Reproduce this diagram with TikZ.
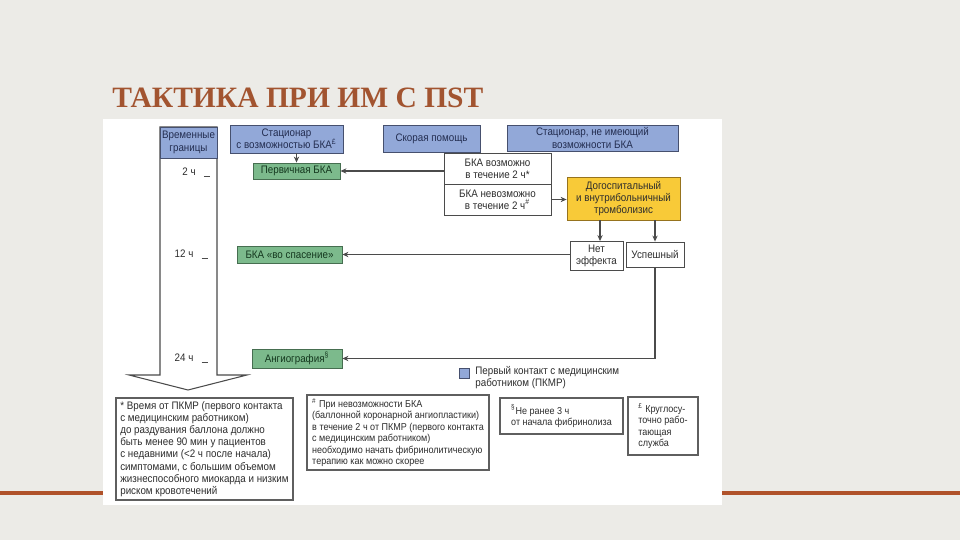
\documentclass[tikz,border=0pt]{standalone}
\usepackage{fontspec}
\setmainfont[FakeStretch=0.9]{Liberation Sans}
\newfontfamily\titlefont{Liberation Serif}
\usetikzlibrary{arrows.meta,positioning}

\definecolor{slidebg}{RGB}{236,235,231}
\definecolor{accent}{RGB}{176,82,42}
\definecolor{titlebrown}{RGB}{162,84,48}
\definecolor{pkmr}{RGB}{146,168,216}
\definecolor{pkmrline}{RGB}{70,80,110}
\definecolor{pkmrtext}{RGB}{35,45,80}
\definecolor{pcigreen}{RGB}{124,186,140}
\definecolor{pciline}{RGB}{70,110,80}
\definecolor{pcitext}{RGB}{20,55,30}
\definecolor{lysisyellow}{RGB}{248,202,56}
\definecolor{lysisline}{RGB}{150,115,30}
\definecolor{linegray}{RGB}{75,75,75}
\definecolor{notegray}{RGB}{95,95,95}
\definecolor{textgray}{RGB}{45,45,45}

\newcommand\diafont{\fontsize{6.2}{7}\selectfont}
\newcommand\notefont{\fontsize{5.7}{6.5}\selectfont}
\newcommand\bignotefont{\fontsize{6.2}{6.9}\selectfont}

\begin{document}
\begin{tikzpicture}[
  x=0.02cm, y=-0.02cm,
  box/.style={draw=linegray, line width=0.5pt, inner sep=1pt, align=center, text=textgray, font=\diafont},
  firstbox/.style={box, fill=pkmr, draw=pkmrline, text=pkmrtext},
  pcibox/.style={box, fill=pcigreen, draw=pciline, text=pcitext},
  notebox/.style={box, align=left, line width=0.9pt, draw=notegray, font=\notefont, inner sep=2pt},
  line/.style={-{Stealth[length=3.4pt,width=3pt]}, line width=0.6pt, draw=linegray},
  timelabel/.style={font=\diafont, text=textgray, inner sep=0pt}
]
% slide and picture panel
\fill[slidebg] (0,0) rectangle (960,540);
\fill[white] (103,119) rectangle (722,505);
\fill[accent] (0,491) rectangle (103,495);
\fill[accent] (722,491) rectangle (960,495);
\node[anchor=base west, inner sep=0pt, text=titlebrown, font=\titlefont\bfseries\fontsize{16.8}{19}\selectfont] (title) at (112,108) {ТАКТИКА ПРИ ИМ С ПST};

% time axis
\draw[linegray, line width=0.6pt, fill=white] (160,127) -- (217,127) -- (217,375) -- (247,375) -- (188,390) -- (129,375) -- (160,375) -- cycle;
\node[firstbox, minimum width=1.14cm, minimum height=0.62cm] (hdr) at (188.5,142.5) {Временные\\границы};
\node[timelabel] (t2) at (189,172) {2 ч};
\node[timelabel] (t12) at (184,254) {12 ч};
\node[timelabel] (t24) at (184,358) {24 ч};
\draw[linegray, line width=0.5pt] ([xshift=0.16cm]t2.south east) -- ++(6,0);
\draw[linegray, line width=0.5pt] ([xshift=0.16cm]t12.south east) -- ++(6,0);
\draw[linegray, line width=0.5pt] ([xshift=0.16cm]t24.south east) -- ++(6,0);

% first contact
\node[firstbox, minimum width=2.26cm, minimum height=0.56cm] (stpci) at (286.5,139) {Стационар\\с возможностью БКА\textsuperscript{£}};
\node[firstbox, minimum width=1.94cm, minimum height=0.54cm] (ems) at (431.5,138.5) {Скорая помощь};
\node[firstbox, minimum width=3.42cm, minimum height=0.52cm] (stnon) at (592.5,138) {Стационар, не имеющий\\возможности БКА};
\node[box, fill=white, minimum width=2.14cm, minimum height=0.62cm] (pciyes) at (497.5,168.5) {БКА возможно\\в течение 2 ч*};
\node[box, fill=white, minimum width=2.14cm, minimum height=0.62cm] (pcino) at (497.5,199.5) {БКА невозможно\\в течение 2 ч\textsuperscript{\#}};

% treatment
\node[pcibox, minimum width=1.74cm, minimum height=0.32cm] (ppci) at (296.5,171) {Первичная БКА};
\node[box, fill=lysisyellow, draw=lysisline, minimum width=2.26cm, minimum height=0.86cm] (lysis) at (623.5,198.5) {Догоспитальный\\и внутрибольничный\\тромболизис};
\node[box, fill=white, minimum width=1.06cm, minimum height=0.58cm] (fail) at (596.5,256) {Нет\\эффекта};
\node[box, fill=white, minimum width=1.16cm, minimum height=0.5cm] (succ) at (655,254.5) {Успешный};
\node[pcibox, minimum width=2.1cm, minimum height=0.34cm] (rescue) at (289.5,254.5) {БКА «во спасение»};
\node[pcibox, minimum width=1.8cm, minimum height=0.38cm] (angio) at (297,358.5) {Ангиография\textsuperscript{§}};

\draw[line] (ppci.north |- stpci.south) -- (ppci.north);
\draw[line] (pciyes.west |- ppci.east) -- (ppci.east);
\draw[line] (pcino.east) -- (pcino.east -| lysis.west);
\draw[line] ([xshift=2pt]fail.north |- lysis.south) -- ([xshift=2pt]fail.north);
\draw[line] (succ.north |- lysis.south) -- (succ.north);
\draw[line] (fail.west |- rescue.east) -- (rescue.east);
\draw[line] (succ.south) |- (angio.east);

% legend
\node[draw=pkmrline, fill=pkmr, line width=0.4pt, minimum size=0.2cm, inner sep=0pt] (legsq) at (464,373) {};
\node[anchor=north west, align=left, font=\diafont, text=textgray, inner sep=0pt] (legtxt) at (475,366) {Первый контакт с медицинским\\работником (ПКМР)};

% footnotes
\node[notebox, font=\bignotefont, minimum width=3.54cm, minimum height=2.04cm] (note1) at (204.5,449) {* Время от ПКМР (первого контакта\\с медицинским работником)\\до раздувания баллона должно\\быть менее 90 мин у пациентов\\с недавними (<2 ч после начала)\\симптомами, с большим объемом\\жизнеспособного миокарда и низким\\риском кровотечений};
\node[notebox, minimum width=3.64cm, minimum height=1.42cm] (note2) at (398,432.5) {\textsuperscript{\#} При невозможности БКА\\(баллонной коронарной ангиопластики)\\в течение 2 ч от ПКМР (первого контакта\\с медицинским работником)\\необходимо начать фибринолитическую\\терапию как можно скорее};
\node[notebox, minimum width=2.46cm, minimum height=0.72cm] (note3) at (561.5,416) {\textsuperscript{§}Не ранее 3 ч\\от начала фибринолиза};
\node[notebox, minimum width=1.4cm, minimum height=1.16cm] (note4) at (663,426) {\textsuperscript{£} Круглосу-\\точно рабо-\\тающая\\служба};
\end{tikzpicture}
\end{document}
